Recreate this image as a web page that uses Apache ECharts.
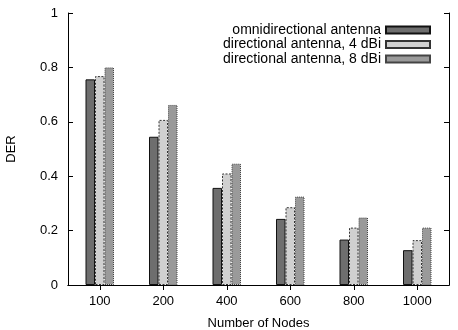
<!DOCTYPE html>
<html>
<head>
<meta charset="utf-8">
<script src="https://cdn.jsdelivr.net/npm/echarts@6/dist/echarts.min.js"></script>
<style>
  html, body { margin: 0; padding: 0; background: #fff; }
  #chart { width: 458px; height: 330px; }
</style>
</head>
<body>
<div id="chart"></div>
<script>
// node counts on the x axis
const nodes = ['100', '200', '400', '600', '800', '1000'];

// DER per antenna type
const omni = [0.756, 0.545, 0.357, 0.243, 0.167, 0.128];
const dir4 = [0.768, 0.607, 0.410, 0.286, 0.211, 0.165];
const dir8 = [0.800, 0.662, 0.446, 0.325, 0.248, 0.211];

const yTicks = [0, 0.2, 0.4, 0.6, 0.8, 1];

const font = 'Liberation Sans, Arial, sans-serif';

let myChart = echarts.init(document.getElementById('chart'));

const axisLine = { show: true, lineStyle: { color: '#000', width: 1 } };
const ticks = { show: true, inside: true, length: 5, lineStyle: { color: '#000' } };

let option = {
    animation: false,
    textStyle: { fontFamily: font },
    grid: { left: 68, right: 9, top: 13, bottom: 45, containLabel: false, outerBoundsMode: 'none' },
    legend: {
        orient: 'vertical',
        right: 22,
        top: 18,
        align: 'right',
        icon: 'rect',
        itemWidth: 44,
        itemHeight: 7,
        itemGap: 0.5,
        textStyle: { fontSize: 14, color: '#000', lineHeight: 14, fontFamily: font },
        data: ['omnidirectional antenna', 'directional antenna, 4 dBi', 'directional antenna, 8 dBi']
    },
    xAxis: [{
        type: 'category',
        data: nodes,
        name: 'Number of Nodes',
        nameLocation: 'middle',
        nameGap: 32,
        nameTextStyle: { fontSize: 13, color: '#000' },
        axisLine: axisLine,
        axisTick: Object.assign({ alignWithLabel: true }, ticks),
        axisLabel: { fontSize: 13, color: '#000', margin: 10 },
        splitLine: { show: false }
    }, {
        type: 'category',
        data: nodes,
        position: 'top',
        axisLine: axisLine,
        axisTick: Object.assign({ alignWithLabel: true }, ticks),
        axisLabel: { show: false },
        splitLine: { show: false }
    }],
    yAxis: [{
        type: 'value',
        min: 0,
        max: 1,
        interval: 0.2,
        name: 'DER',
        nameLocation: 'middle',
        nameGap: 50,
        nameTextStyle: { fontSize: 13, color: '#000' },
        axisLine: axisLine,
        axisTick: ticks,
        axisLabel: { fontSize: 13, color: '#000', margin: 10, formatter: v => yTicks.includes(+v.toFixed(1)) ? String(+v.toFixed(1)) : '' },
        splitLine: { show: false }
    }, {
        type: 'value',
        min: 0,
        max: 1,
        interval: 0.2,
        position: 'right',
        axisLine: axisLine,
        axisTick: ticks,
        axisLabel: { show: false },
        splitLine: { show: false }
    }],
    series: [{
        name: 'omnidirectional antenna',
        type: 'bar',
        data: omni,
        barWidth: 9.5,
        barGap: '0%',
        itemStyle: { color: '#6e6e6e', borderColor: '#111', borderWidth: 1 }
    }, {
        name: 'directional antenna, 4 dBi',
        type: 'bar',
        data: dir4,
        barWidth: 9.5,
        barGap: '0%',
        itemStyle: { color: '#d0d0d0', borderColor: '#333', borderWidth: 1, borderType: [2, 1.5] }
    }, {
        name: 'directional antenna, 8 dBi',
        type: 'bar',
        data: dir8,
        barWidth: 9.5,
        barGap: '0%',
        itemStyle: { color: '#9a9a9a', borderColor: '#444', borderWidth: 1, borderType: [1, 1] }
    }]
};

myChart.setOption(option);
</script>
</body>
</html>
